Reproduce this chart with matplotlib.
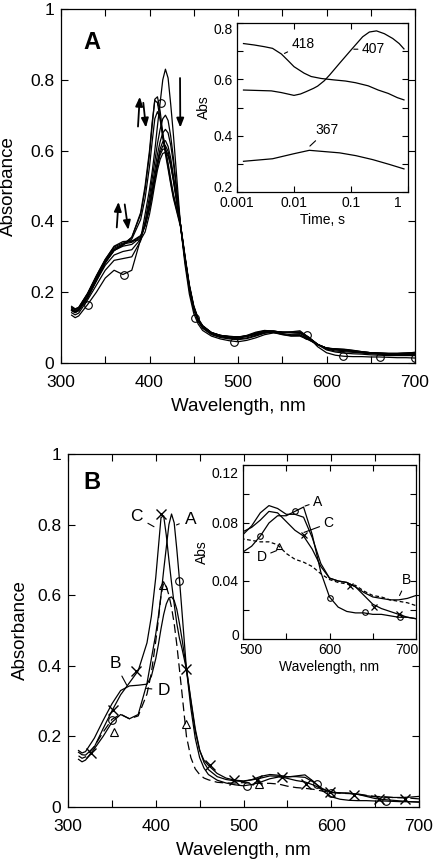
import matplotlib
matplotlib.use('Agg')
import matplotlib.pyplot as plt
from matplotlib.transforms import ScaledTranslation

plt.rcParams['font.family'] = ['Liberation Sans', 'DejaVu Sans']

# ---------------- data ----------------
W = [312, 316, 320, 330, 340, 350, 360, 370, 380, 390,
     395, 400, 403, 406, 409, 412, 415, 418, 421, 424, 427, 430,
     435, 440, 445, 450, 455, 460,
     470, 480, 490, 500, 510, 520, 530, 540, 550, 560, 570, 580, 590, 600,
     610, 620, 630, 640, 650, 660, 670, 680, 690, 700]

spec_A = [0.135, 0.128, 0.133, 0.165, 0.200, 0.240, 0.262, 0.250, 0.262, 0.350,
          0.420, 0.490, 0.540, 0.600, 0.670, 0.735, 0.800, 0.830, 0.805, 0.730, 0.645, 0.550,
          0.390, 0.280, 0.195, 0.140, 0.110, 0.092,
          0.076, 0.068, 0.063, 0.060, 0.064, 0.071, 0.080, 0.085, 0.085, 0.088, 0.091, 0.072, 0.046, 0.029,
          0.022, 0.019, 0.018, 0.018, 0.017, 0.017, 0.016, 0.015, 0.015, 0.014]

spec_B = [0.160, 0.153, 0.157, 0.195, 0.245, 0.292, 0.330, 0.343, 0.345, 0.348,
          0.370, 0.420, 0.460, 0.505, 0.545, 0.575, 0.592, 0.595, 0.585, 0.560, 0.520, 0.475,
          0.392, 0.305, 0.222, 0.162, 0.126, 0.106,
          0.086, 0.078, 0.074, 0.072, 0.078, 0.087, 0.092, 0.090, 0.086, 0.086, 0.084, 0.070, 0.052, 0.042,
          0.040, 0.039, 0.036, 0.032, 0.029, 0.028, 0.027, 0.027, 0.028, 0.030]

spec_C = [0.155, 0.148, 0.147, 0.170, 0.222, 0.272, 0.318, 0.352, 0.386, 0.465,
          0.540, 0.650, 0.735, 0.820, 0.825, 0.770, 0.700, 0.635, 0.575, 0.520, 0.478, 0.448,
          0.390, 0.300, 0.215, 0.160, 0.132, 0.118,
          0.095, 0.082, 0.076, 0.074, 0.077, 0.082, 0.088, 0.087, 0.081, 0.075, 0.071, 0.062, 0.050, 0.042,
          0.040, 0.039, 0.036, 0.030, 0.024, 0.021, 0.019, 0.017, 0.015, 0.014]

spec_D = [0.145, 0.138, 0.142, 0.172, 0.212, 0.248, 0.263, 0.250, 0.258, 0.320,
          0.380, 0.470, 0.530, 0.600, 0.635, 0.625, 0.600, 0.565, 0.520, 0.460, 0.390, 0.320,
          0.200, 0.140, 0.108, 0.092, 0.082, 0.077,
          0.070, 0.068, 0.068, 0.069, 0.068, 0.067, 0.067, 0.065, 0.059, 0.055, 0.053, 0.050, 0.045, 0.041,
          0.039, 0.038, 0.037, 0.033, 0.030, 0.029, 0.027, 0.026, 0.025, 0.023]

# intermediate spectra of panel A (time course)
spec_t1 = [0.150, 0.145, 0.150, 0.185, 0.235, 0.285, 0.320, 0.335, 0.355, 0.420,
           0.490, 0.590, 0.670, 0.745, 0.752, 0.712, 0.650, 0.600, 0.555, 0.510, 0.470, 0.440,
           0.390, 0.300, 0.215, 0.155, 0.122, 0.104,
           0.086, 0.078, 0.075, 0.074, 0.076, 0.081, 0.086, 0.086, 0.080, 0.076, 0.076, 0.065, 0.052, 0.042,
           0.038, 0.036, 0.033, 0.030, 0.028, 0.026, 0.025, 0.024, 0.023, 0.022]
spec_t2 = [0.148, 0.143, 0.148, 0.183, 0.232, 0.282, 0.318, 0.333, 0.355, 0.425,
           0.500, 0.600, 0.680, 0.742, 0.735, 0.690, 0.635, 0.590, 0.548, 0.505, 0.465, 0.435,
           0.385, 0.295, 0.212, 0.153, 0.120, 0.102,
           0.085, 0.078, 0.075, 0.074, 0.076, 0.081, 0.086, 0.087, 0.081, 0.077, 0.078, 0.066, 0.052, 0.042,
           0.038, 0.035, 0.033, 0.030, 0.028, 0.026, 0.025, 0.024, 0.023, 0.022]
spec_t3 = [0.150, 0.145, 0.150, 0.186, 0.236, 0.285, 0.318, 0.333, 0.350, 0.405,
           0.465, 0.555, 0.625, 0.690, 0.710, 0.690, 0.645, 0.605, 0.565, 0.520, 0.478, 0.445,
           0.392, 0.302, 0.217, 0.157, 0.122, 0.104,
           0.086, 0.078, 0.075, 0.074, 0.076, 0.082, 0.087, 0.088, 0.083, 0.080, 0.080, 0.067, 0.052, 0.042,
           0.039, 0.036, 0.034, 0.031, 0.029, 0.027, 0.026, 0.025, 0.024, 0.024]
spec_t4 = [0.142, 0.136, 0.141, 0.178, 0.220, 0.262, 0.290, 0.295, 0.300, 0.345,
           0.400, 0.470, 0.520, 0.570, 0.620, 0.660, 0.690, 0.700, 0.685, 0.640, 0.580, 0.510,
           0.390, 0.290, 0.207, 0.150, 0.117, 0.098,
           0.080, 0.072, 0.068, 0.066, 0.069, 0.076, 0.084, 0.088, 0.086, 0.087, 0.088, 0.073, 0.052, 0.037,
           0.031, 0.028, 0.026, 0.025, 0.023, 0.022, 0.021, 0.021, 0.021, 0.021]
spec_t5 = [0.148, 0.142, 0.148, 0.186, 0.232, 0.276, 0.305, 0.315, 0.320, 0.350,
           0.392, 0.455, 0.500, 0.545, 0.590, 0.625, 0.650, 0.660, 0.650, 0.615, 0.565, 0.500,
           0.392, 0.295, 0.212, 0.153, 0.119, 0.100,
           0.082, 0.074, 0.070, 0.068, 0.071, 0.078, 0.086, 0.089, 0.087, 0.087, 0.087, 0.072, 0.053, 0.039,
           0.034, 0.032, 0.030, 0.028, 0.026, 0.025, 0.024, 0.024, 0.024, 0.025]
spec_t6 = [0.152, 0.147, 0.152, 0.192, 0.240, 0.286, 0.318, 0.330, 0.335, 0.355,
           0.388, 0.440, 0.485, 0.528, 0.570, 0.605, 0.625, 0.628, 0.612, 0.578, 0.530, 0.475,
           0.390, 0.297, 0.215, 0.156, 0.122, 0.103,
           0.084, 0.076, 0.072, 0.070, 0.075, 0.082, 0.089, 0.090, 0.087, 0.086, 0.086, 0.071, 0.053, 0.041,
           0.038, 0.036, 0.033, 0.030, 0.028, 0.027, 0.026, 0.026, 0.026, 0.027]
spec_t7 = [0.155, 0.150, 0.155, 0.195, 0.244, 0.290, 0.324, 0.336, 0.341, 0.358,
           0.388, 0.438, 0.480, 0.522, 0.562, 0.595, 0.613, 0.614, 0.598, 0.565, 0.520, 0.468,
           0.388, 0.298, 0.217, 0.158, 0.123, 0.104,
           0.085, 0.077, 0.073, 0.071, 0.076, 0.084, 0.090, 0.090, 0.087, 0.086, 0.085, 0.071, 0.052, 0.042,
           0.039, 0.037, 0.034, 0.031, 0.029, 0.028, 0.027, 0.027, 0.028, 0.029]
spec_t8 = [0.157, 0.152, 0.157, 0.197, 0.247, 0.293, 0.328, 0.339, 0.344, 0.360,
           0.389, 0.437, 0.477, 0.518, 0.557, 0.588, 0.604, 0.604, 0.589, 0.557, 0.514, 0.466,
           0.389, 0.300, 0.219, 0.160, 0.124, 0.105,
           0.085, 0.077, 0.073, 0.072, 0.077, 0.085, 0.091, 0.090, 0.087, 0.086, 0.085, 0.070, 0.052, 0.042,
           0.040, 0.038, 0.035, 0.032, 0.029, 0.028, 0.027, 0.027, 0.028, 0.030]

# markers
mkA_x = [330, 371, 412.7, 451, 495, 578, 619, 660, 700]
mkA_y = [0.165, 0.249, 0.734, 0.128, 0.060, 0.079, 0.020, 0.016, 0.013]

mkB_A_x = [350, 427, 504, 584, 600, 662]
mkB_A_y = [0.246, 0.641, 0.059, 0.066, 0.041, 0.016]
mkB_C_x = [326, 351, 378, 406, 435, 462, 489, 515, 544, 571, 599, 626, 654, 684]
mkB_C_y = [0.153, 0.276, 0.386, 0.830, 0.390, 0.118, 0.076, 0.076, 0.085, 0.066, 0.043, 0.033, 0.024, 0.022]
mkB_D_x = [352, 408, 435, 518]
mkB_D_y = [0.213, 0.630, 0.236, 0.066]

mkI_A_x = [520, 560, 600.6, 641, 681]
mkI_A_y = [0.071, 0.088, 0.0285, 0.0184, 0.015]
mkI_C_x = [570, 624, 651, 680]
mkI_C_y = [0.0715, 0.0368, 0.0223, 0.017]
mkI_D_x = [542]
mkI_D_y = [0.064]

# kinetic traces (inset of panel A)
t418 = [0.0013, 0.002, 0.003, 0.0042, 0.006, 0.008, 0.01, 0.015, 0.02, 0.03, 0.05, 0.08, 0.12, 0.2, 0.3, 0.45, 0.65, 0.85]
a418 = [0.727, 0.722, 0.716, 0.710, 0.690, 0.665, 0.645, 0.622, 0.610, 0.603, 0.598, 0.594, 0.588, 0.577, 0.562, 0.550, 0.535, 0.527]
t407 = [0.0013, 0.004, 0.006, 0.01, 0.013, 0.0162, 0.022, 0.026, 0.034, 0.042, 0.063, 0.102, 0.16, 0.21, 0.28, 0.385, 0.54, 0.70, 0.85]
a407 = [0.562, 0.559, 0.553, 0.543, 0.548, 0.556, 0.568, 0.576, 0.595, 0.615, 0.657, 0.706, 0.751, 0.768, 0.772, 0.762, 0.745, 0.727, 0.708]
t367 = [0.0013, 0.0042, 0.01, 0.0186, 0.0278, 0.063, 0.122, 0.24, 0.47, 0.85]
a367 = [0.309, 0.318, 0.336, 0.348, 0.345, 0.339, 0.329, 0.315, 0.298, 0.282]

# ---------------- figure ----------------
fig = plt.figure(figsize=(4.33, 8.60), dpi=100)

axA = fig.add_axes([61/433, 1-363/860, 354/433, 354/860])
axB = fig.add_axes([68/433, 1-807/860, 351/433, 353/860])
insA = fig.add_axes([237/433, 1-192/860, 171/433, 169/860])
insB = fig.add_axes([243/433, 1-639/860, 173/433, 174/860])

LW = 0.9


def style_main(ax, ylpad):
    ax.set_xlim(300, 700)
    ax.set_ylim(0, 1)
    ax.set_xticks([300, 400, 500, 600, 700])
    ax.set_xticks([350, 450, 550, 650], minor=True)
    ax.set_yticks([0, 0.2, 0.4, 0.6, 0.8, 1.0])
    ax.set_yticklabels(['0', '0.2', '0.4', '0.6', '0.8', '1'])
    ax.tick_params(which='both', direction='in', top=True, right=True,
                   length=5, width=0.8, labelsize=12.5)
    ax.tick_params(axis='x', which='both', pad=8.5)
    ax.tick_params(axis='y', which='both', pad=5)
    for s in ax.spines.values():
        s.set_linewidth(0.9)
    ax.set_xlabel('Wavelength, nm', fontsize=13.5, labelpad=6)
    ax.set_ylabel('Absorbance', fontsize=13.5, labelpad=ylpad)


def shift_label(lbl, dx, dy):
    lbl.set_transform(lbl.get_transform() + ScaledTranslation(dx/100, dy/100, fig.dpi_scale_trans))


# ---- panel A ----
for s in [spec_t1, spec_t2, spec_t3, spec_t4, spec_t5, spec_t6, spec_t7, spec_t8, spec_B]:
    axA.plot(W, s, color='k', lw=LW)
axA.plot(W, spec_A, color='k', lw=LW)
axA.plot(mkA_x, mkA_y, ls='none', marker='o', ms=5.5, mfc='none', mec='k', mew=0.8)
style_main(axA, 9)
axA.text(0.0876, 0.904, 'A', transform=axA.transAxes, fontsize=17, fontweight='bold',
         ha='center', va='center')

arr = dict(arrowstyle='-|>,head_length=0.55,head_width=0.22', color='k', lw=1.3,
           shrinkA=0, shrinkB=0)
axA.annotate('', xy=(389, 0.752), xytext=(387, 0.668), arrowprops=arr)
axA.annotate('', xy=(396, 0.665), xytext=(393, 0.735), arrowprops=arr)
axA.annotate('', xy=(434.8, 0.665), xytext=(434.5, 0.805), arrowprops=arr)
axA.annotate('', xy=(365, 0.455), xytext=(363, 0.383), arrowprops=arr)
axA.annotate('', xy=(376, 0.376), xytext=(372, 0.448), arrowprops=arr)

# ---- inset A ----
insA.plot(t418, a418, color='k', lw=LW)
insA.plot(t407, a407, color='k', lw=LW)
insA.plot(t367, a367, color='k', lw=LW)
insA.set_xscale('log')
insA.set_xlim(0.001, 1)
insA.set_ylim(0.2, 0.8)
insA.set_xticks([0.001, 0.01, 0.1, 1])
insA.set_xticklabels(['0.001', '0.01', '0.1', '1'])
insA.xaxis.set_minor_locator(matplotlib.ticker.NullLocator())
insA.set_yticks([0.2, 0.4, 0.6, 0.8])
insA.set_yticklabels(['0.2', '0.4', '0.6', '0.8'])
insA.set_yticks([0.3, 0.5, 0.7], minor=True)
insA.tick_params(which='both', direction='in', top=True, right=True, length=4,
                 width=0.8, labelsize=10, pad=3)
for s in insA.spines.values():
    s.set_linewidth(0.9)
insA.set_xlabel('Time, s', fontsize=10, labelpad=2)
insA.set_ylabel('Abs', fontsize=10, labelpad=2)
xl = insA.get_xticklabels()
shift_label(xl[-1], -10, 0)
yl = insA.get_yticklabels()
shift_label(yl[0], 0, 6)
shift_label(yl[-1], 0, -5)
lead = dict(arrowstyle='-', color='k', lw=0.8, shrinkA=1, shrinkB=0)
insA.annotate('418', xy=(0.0068, 0.692), xytext=(0.0145, 0.724), fontsize=10,
              ha='center', va='center', arrowprops=lead)
insA.annotate('407', xy=(0.112, 0.707), xytext=(0.25, 0.707), fontsize=10,
              ha='center', va='center', arrowprops=lead)
insA.annotate('367', xy=(0.019, 0.363), xytext=(0.038, 0.42), fontsize=10,
              ha='center', va='center', arrowprops=lead)

# ---- panel B ----
axB.plot(W, spec_A, color='k', lw=LW)
axB.plot(W, spec_B, color='k', lw=LW)
axB.plot(W, spec_C, color='k', lw=LW)
axB.plot(W, spec_D, color='k', lw=LW, ls=(0, (7, 3.5)))
axB.plot(mkB_A_x, mkB_A_y, ls='none', marker='o', ms=5.5, mfc='none', mec='k', mew=0.8)
axB.plot(mkB_C_x, mkB_C_y, ls='none', marker='x', ms=7, mec='k', mew=1.0)
axB.plot(mkB_D_x, mkB_D_y, ls='none', marker='^', ms=5.5, mfc='none', mec='k', mew=0.8)
style_main(axB, 6)
axB.text(0.068, 0.918, 'B', transform=axB.transAxes, fontsize=17, fontweight='bold',
         ha='center', va='center')
leadB = dict(arrowstyle='-', color='k', lw=0.8, shrinkA=2, shrinkB=0)
axB.annotate('C', xy=(398, 0.794), xytext=(378, 0.822), fontsize=12.5,
             ha='center', va='center', arrowprops=leadB)
axB.annotate('A', xy=(423.6, 0.799), xytext=(439.5, 0.815), fontsize=12.5,
             ha='center', va='center', arrowprops=leadB)
axB.annotate('B', xy=(367, 0.345), xytext=(353.6, 0.407), fontsize=12.5,
             ha='center', va='center', arrowprops=leadB)
axB.annotate('D', xy=(389.5, 0.336), xytext=(409, 0.331), fontsize=12.5,
             ha='center', va='center', arrowprops=leadB)

# ---- inset B ----
insB.plot(W, spec_A, color='k', lw=LW)
insB.plot(W, spec_B, color='k', lw=LW)
insB.plot(W, spec_C, color='k', lw=LW)
insB.plot(W, spec_D, color='k', lw=LW, ls=(0, (3, 2)))
insB.plot(mkI_A_x, mkI_A_y, ls='none', marker='o', ms=4, mfc='none', mec='k', mew=0.8)
insB.plot(mkI_C_x, mkI_C_y, ls='none', marker='x', ms=5, mec='k', mew=0.9)
insB.plot(mkI_D_x, mkI_D_y, ls='none', marker='^', ms=4, mfc='none', mec='k', mew=0.8)
insB.set_xlim(500, 700)
insB.set_ylim(0, 0.12)
insB.set_xticks([500, 600, 700])
insB.set_xticks([550, 650], minor=True)
insB.set_yticks([0, 0.04, 0.08, 0.12])
insB.set_yticklabels(['0', '0.04', '0.08', '0.12'])
insB.set_yticks([0.02, 0.06, 0.10], minor=True)
insB.tick_params(which='both', direction='in', top=True, right=True, length=4,
                 width=0.8, labelsize=10, pad=3)
for s in insB.spines.values():
    s.set_linewidth(0.9)
insB.set_xlabel('Wavelength, nm', fontsize=10, labelpad=2)
insB.set_ylabel('Abs', fontsize=10, labelpad=2)
xl = insB.get_xticklabels()
shift_label(xl[0], 8, 0)
shift_label(xl[-1], -9, 0)
yl = insB.get_yticklabels()
shift_label(yl[0], 0, 4)
shift_label(yl[-1], 0, -8)
leadI = dict(arrowstyle='-', color='k', lw=0.8, shrinkA=1, shrinkB=0)
insB.annotate('A', xy=(571.7, 0.0917), xytext=(586.5, 0.0947), fontsize=10,
              ha='center', va='center', arrowprops=leadI)
insB.annotate('C', xy=(570.5, 0.0735), xytext=(599, 0.0798), fontsize=10,
              ha='center', va='center', arrowprops=leadI)
insB.annotate('D', xy=(539, 0.061), xytext=(521.6, 0.0568), fontsize=10,
              ha='center', va='center', arrowprops=leadI)
insB.annotate('B', xy=(681, 0.030), xytext=(689.5, 0.0407), fontsize=10,
              ha='center', va='center', arrowprops=leadI)

fig.savefig('out.png', dpi=100)
